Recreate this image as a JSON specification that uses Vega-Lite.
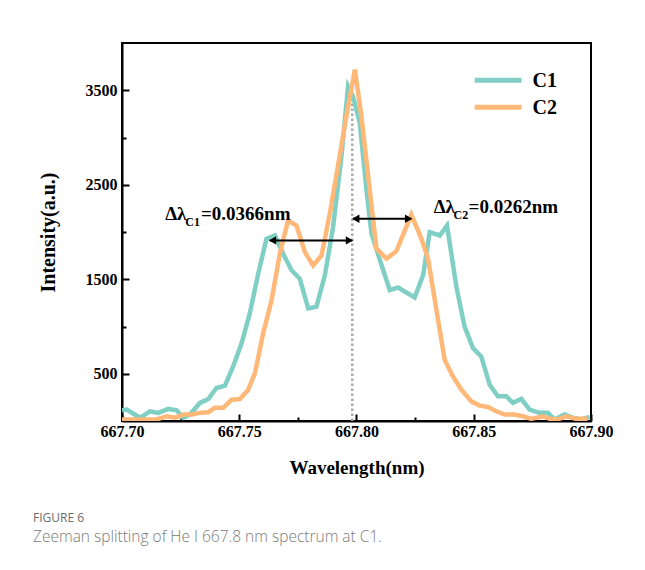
{
  "$schema": "https://vega.github.io/schema/vega-lite/v6.json",
  "width": 469,
  "height": 378,
  "padding": {"left": 33, "top": 43, "right": 5, "bottom": 5},
  "background": "white",
  "config": {
    "view": {"stroke": "black", "strokeWidth": 2},
    "font": "Liberation Serif"
  },
  "title": {
    "text": "FIGURE 6",
    "subtitle": "Zeeman splitting of He I 667.8 nm spectrum at C1.",
    "orient": "bottom",
    "anchor": "start",
    "frame": "bounds",
    "font": "Open Sans",
    "fontSize": 12,
    "fontWeight": "normal",
    "color": "#6b6b6b",
    "subtitleFont": "Open Sans",
    "subtitleFontSize": 15.5,
    "subtitleFontWeight": 300,
    "subtitleColor": "#7a7a7a",
    "subtitlePadding": 5,
    "offset": 36,
    "dx": -5
  },
  "datasets": {
    "spectra": [
      {"series": "C1", "wavelength": 667.7000, "intensity": 114},
      {"series": "C1", "wavelength": 667.7020, "intensity": 121},
      {"series": "C1", "wavelength": 667.7077, "intensity": 34},
      {"series": "C1", "wavelength": 667.7119, "intensity": 103},
      {"series": "C1", "wavelength": 667.7155, "intensity": 86},
      {"series": "C1", "wavelength": 667.7197, "intensity": 128},
      {"series": "C1", "wavelength": 667.7233, "intensity": 114},
      {"series": "C1", "wavelength": 667.7261, "intensity": 34},
      {"series": "C1", "wavelength": 667.7290, "intensity": 68},
      {"series": "C1", "wavelength": 667.7332, "intensity": 191},
      {"series": "C1", "wavelength": 667.7368, "intensity": 233},
      {"series": "C1", "wavelength": 667.7403, "intensity": 349},
      {"series": "C1", "wavelength": 667.7439, "intensity": 374},
      {"series": "C1", "wavelength": 667.7474, "intensity": 577},
      {"series": "C1", "wavelength": 667.7510, "intensity": 823},
      {"series": "C1", "wavelength": 667.7545, "intensity": 1139},
      {"series": "C1", "wavelength": 667.7581, "intensity": 1560},
      {"series": "C1", "wavelength": 667.7616, "intensity": 1928},
      {"series": "C1", "wavelength": 667.7652, "intensity": 1963},
      {"series": "C1", "wavelength": 667.7687, "intensity": 1770},
      {"series": "C1", "wavelength": 667.7723, "intensity": 1595},
      {"series": "C1", "wavelength": 667.7758, "intensity": 1507},
      {"series": "C1", "wavelength": 667.7794, "intensity": 1191},
      {"series": "C1", "wavelength": 667.7829, "intensity": 1209},
      {"series": "C1", "wavelength": 667.7865, "intensity": 1542},
      {"series": "C1", "wavelength": 667.7900, "intensity": 2050},
      {"series": "C1", "wavelength": 667.7936, "intensity": 2805},
      {"series": "C1", "wavelength": 667.7964, "intensity": 3542},
      {"series": "C1", "wavelength": 667.7985, "intensity": 3437},
      {"series": "C1", "wavelength": 667.8014, "intensity": 3153},
      {"series": "C1", "wavelength": 667.8042, "intensity": 2458},
      {"series": "C1", "wavelength": 667.8064, "intensity": 1984},
      {"series": "C1", "wavelength": 667.8103, "intensity": 1679},
      {"series": "C1", "wavelength": 667.8142, "intensity": 1384},
      {"series": "C1", "wavelength": 667.8177, "intensity": 1413},
      {"series": "C1", "wavelength": 667.8248, "intensity": 1307},
      {"series": "C1", "wavelength": 667.8284, "intensity": 1542},
      {"series": "C1", "wavelength": 667.8312, "intensity": 1998},
      {"series": "C1", "wavelength": 667.8355, "intensity": 1963},
      {"series": "C1", "wavelength": 667.8386, "intensity": 2068},
      {"series": "C1", "wavelength": 667.8426, "intensity": 1419},
      {"series": "C1", "wavelength": 667.8461, "intensity": 998},
      {"series": "C1", "wavelength": 667.8497, "intensity": 771},
      {"series": "C1", "wavelength": 667.8532, "intensity": 682},
      {"series": "C1", "wavelength": 667.8568, "intensity": 384},
      {"series": "C1", "wavelength": 667.8603, "intensity": 261},
      {"series": "C1", "wavelength": 667.8639, "intensity": 261},
      {"series": "C1", "wavelength": 667.8667, "intensity": 192},
      {"series": "C1", "wavelength": 667.8703, "intensity": 234},
      {"series": "C1", "wavelength": 667.8738, "intensity": 121},
      {"series": "C1", "wavelength": 667.8781, "intensity": 86},
      {"series": "C1", "wavelength": 667.8816, "intensity": 86},
      {"series": "C1", "wavelength": 667.8845, "intensity": 16},
      {"series": "C1", "wavelength": 667.8887, "intensity": 68},
      {"series": "C1", "wavelength": 667.8923, "intensity": 34},
      {"series": "C1", "wavelength": 667.8958, "intensity": 16},
      {"series": "C1", "wavelength": 667.8994, "intensity": 44},
      {"series": "C2", "wavelength": 667.7000, "intensity": 16},
      {"series": "C2", "wavelength": 667.7034, "intensity": 16},
      {"series": "C2", "wavelength": 667.7072, "intensity": 16},
      {"series": "C2", "wavelength": 667.7107, "intensity": 16},
      {"series": "C2", "wavelength": 667.7148, "intensity": 16},
      {"series": "C2", "wavelength": 667.7190, "intensity": 50},
      {"series": "C2", "wavelength": 667.7226, "intensity": 34},
      {"series": "C2", "wavelength": 667.7261, "intensity": 68},
      {"series": "C2", "wavelength": 667.7297, "intensity": 68},
      {"series": "C2", "wavelength": 667.7332, "intensity": 86},
      {"series": "C2", "wavelength": 667.7368, "intensity": 93},
      {"series": "C2", "wavelength": 667.7396, "intensity": 139},
      {"series": "C2", "wavelength": 667.7432, "intensity": 139},
      {"series": "C2", "wavelength": 667.7467, "intensity": 226},
      {"series": "C2", "wavelength": 667.7503, "intensity": 233},
      {"series": "C2", "wavelength": 667.7538, "intensity": 331},
      {"series": "C2", "wavelength": 667.7567, "intensity": 507},
      {"series": "C2", "wavelength": 667.7602, "intensity": 928},
      {"series": "C2", "wavelength": 667.7638, "intensity": 1279},
      {"series": "C2", "wavelength": 667.7673, "intensity": 1770},
      {"series": "C2", "wavelength": 667.7708, "intensity": 2121},
      {"series": "C2", "wavelength": 667.7744, "intensity": 2068},
      {"series": "C2", "wavelength": 667.7780, "intensity": 1787},
      {"series": "C2", "wavelength": 667.7815, "intensity": 1647},
      {"series": "C2", "wavelength": 667.7851, "intensity": 1752},
      {"series": "C2", "wavelength": 667.7886, "intensity": 2191},
      {"series": "C2", "wavelength": 667.7921, "intensity": 2700},
      {"series": "C2", "wavelength": 667.7957, "intensity": 3226},
      {"series": "C2", "wavelength": 667.7993, "intensity": 3718},
      {"series": "C2", "wavelength": 667.8021, "intensity": 3226},
      {"series": "C2", "wavelength": 667.8056, "intensity": 2455},
      {"series": "C2", "wavelength": 667.8085, "intensity": 1823},
      {"series": "C2", "wavelength": 667.8128, "intensity": 1718},
      {"series": "C2", "wavelength": 667.8170, "intensity": 1797},
      {"series": "C2", "wavelength": 667.8234, "intensity": 2184},
      {"series": "C2", "wavelength": 667.8277, "intensity": 1928},
      {"series": "C2", "wavelength": 667.8305, "intensity": 1718},
      {"series": "C2", "wavelength": 667.8341, "intensity": 1174},
      {"series": "C2", "wavelength": 667.8376, "intensity": 647},
      {"series": "C2", "wavelength": 667.8411, "intensity": 472},
      {"series": "C2", "wavelength": 667.8447, "intensity": 332},
      {"series": "C2", "wavelength": 667.8490, "intensity": 208},
      {"series": "C2", "wavelength": 667.8525, "intensity": 163},
      {"series": "C2", "wavelength": 667.8560, "intensity": 149},
      {"series": "C2", "wavelength": 667.8596, "intensity": 103},
      {"series": "C2", "wavelength": 667.8632, "intensity": 68},
      {"series": "C2", "wavelength": 667.8674, "intensity": 68},
      {"series": "C2", "wavelength": 667.8710, "intensity": 50},
      {"series": "C2", "wavelength": 667.8745, "intensity": 23},
      {"series": "C2", "wavelength": 667.8795, "intensity": 50},
      {"series": "C2", "wavelength": 667.8823, "intensity": 23},
      {"series": "C2", "wavelength": 667.8857, "intensity": 16},
      {"series": "C2", "wavelength": 667.8894, "intensity": 50},
      {"series": "C2", "wavelength": 667.8937, "intensity": 23},
      {"series": "C2", "wavelength": 667.8986, "intensity": 23}
    ],
    "legendItems": [
      {"series": "C1", "x1": 667.8504, "x2": 667.8704, "y": 3605, "lx": 667.8751, "ly": 3532},
      {"series": "C2", "x1": 667.8504, "x2": 667.8704, "y": 3321, "lx": 667.8751, "ly": 3247}
    ],
    "arrows": [
      {"name": "C1", "x1": 667.7630, "x2": 667.7982, "y": 1911},
      {"name": "C2", "x1": 667.7985, "x2": 667.8234, "y": 2140}
    ],
    "heads": [
      {"x": 667.7642, "y": 1911, "dir": "left"},
      {"x": 667.7970, "y": 1911, "dir": "right"},
      {"x": 667.7997, "y": 2140, "dir": "left"},
      {"x": 667.8222, "y": 2140, "dir": "right"}
    ],
    "marker": [
      {"x": 667.7982, "y": 0, "y2": 3437}
    ],
    "mainText": [
      {"text": "Δλ", "x": 667.7184, "y": 2131},
      {"text": "=0.0366nm", "x": 667.7337, "y": 2131},
      {"text": "Δλ", "x": 667.8329, "y": 2204},
      {"text": "=0.0262nm", "x": 667.8478, "y": 2204}
    ],
    "subText": [
      {"text": "C1", "x": 667.7270, "y": 2065},
      {"text": "C2", "x": 667.8414, "y": 2138}
    ]
  },
  "layer": [
    {
      "data": {"name": "marker"},
      "mark": {"type": "rule", "color": "#aaaaaa", "strokeWidth": 2.5, "strokeDash": [2.5, 2.5]},
      "encoding": {
        "x": {"field": "x", "type": "quantitative"},
        "y": {"field": "y", "type": "quantitative"},
        "y2": {"field": "y2"}
      }
    },
    {
      "data": {"name": "spectra"},
      "mark": {"type": "line", "strokeWidth": 4.5, "strokeJoin": "miter", "clip": true},
      "encoding": {
        "x": {
          "field": "wavelength",
          "type": "quantitative",
          "scale": {"domain": [667.7, 667.9], "nice": false, "zero": false},
          "axis": {
            "title": "Wavelength(nm)",
            "values": [667.7, 667.725, 667.75, 667.775, 667.8, 667.825, 667.85, 667.875, 667.9],
            "labelExpr": "abs(datum.value*20 - round(datum.value*20)) > 0.01 ? '' : format(datum.value, '.2f')",
            "labelFlush": false,
            "tickSize": {"condition": {"test": "abs(datum.value*20 - round(datum.value*20)) > 0.01", "value": -4}, "value": -7},
            "tickWidth": 2,
            "tickColor": "black",
            "domainColor": "black",
            "domainWidth": 2,
            "grid": false,
            "labelFont": "Liberation Serif",
            "labelFontWeight": "bold",
            "labelFontSize": 16,
            "labelColor": "black",
            "labelPadding": 9,
            "titleFont": "Liberation Serif",
            "titleFontWeight": "bold",
            "titleFontSize": 19,
            "titleColor": "black",
            "titlePadding": 19
          }
        },
        "y": {
          "field": "intensity",
          "type": "quantitative",
          "scale": {"domain": [0, 4000], "nice": false},
          "axis": {
            "title": "Intensity(a.u.)",
            "values": [500, 1000, 1500, 2000, 2500, 3000, 3500],
            "labelExpr": "datum.value % 1000 === 0 ? '' : datum.label",
            "labelFlush": false,
            "format": "d",
            "tickSize": {"condition": {"test": "datum.value % 1000 === 0", "value": -4}, "value": -7},
            "tickWidth": 2,
            "tickColor": "black",
            "domainColor": "black",
            "domainWidth": 2,
            "grid": false,
            "labelFont": "Liberation Serif",
            "labelFontWeight": "bold",
            "labelFontSize": 16,
            "labelColor": "black",
            "labelPadding": 12,
            "titleFont": "Liberation Serif",
            "titleFontWeight": "bold",
            "titleFontSize": 20,
            "titleColor": "black",
            "titlePadding": 27
          }
        },
        "color": {
          "field": "series",
          "type": "nominal",
          "scale": {"domain": ["C1", "C2"], "range": ["#7fcfc4", "#ffb878"]},
          "legend": null
        }
      }
    },
    {
      "data": {"name": "legendItems"},
      "mark": {"type": "rule", "strokeWidth": 5},
      "encoding": {
        "x": {"field": "x1", "type": "quantitative"},
        "x2": {"field": "x2"},
        "y": {"field": "y", "type": "quantitative"},
        "color": {"field": "series", "type": "nominal", "legend": null}
      }
    },
    {
      "data": {"name": "legendItems"},
      "mark": {"type": "text", "align": "left", "baseline": "alphabetic", "font": "Liberation Serif", "fontWeight": "bold", "fontSize": 20, "color": "black"},
      "encoding": {
        "x": {"field": "lx", "type": "quantitative"},
        "y": {"field": "ly", "type": "quantitative"},
        "text": {"field": "series"}
      }
    },
    {
      "data": {"name": "arrows"},
      "mark": {"type": "rule", "color": "black", "strokeWidth": 2},
      "encoding": {
        "x": {"field": "x1", "type": "quantitative"},
        "x2": {"field": "x2"},
        "y": {"field": "y", "type": "quantitative"}
      }
    },
    {
      "data": {"name": "heads"},
      "mark": {"type": "point", "filled": true, "color": "black", "size": 70, "opacity": 1},
      "encoding": {
        "x": {"field": "x", "type": "quantitative"},
        "y": {"field": "y", "type": "quantitative"},
        "shape": {
          "field": "dir",
          "type": "nominal",
          "scale": {"domain": ["left", "right"], "range": ["triangle-left", "triangle-right"]},
          "legend": null
        }
      }
    },
    {
      "data": {"name": "mainText"},
      "mark": {"type": "text", "align": "left", "baseline": "alphabetic", "font": "Liberation Serif", "fontWeight": "bold", "fontSize": 19, "color": "black"},
      "encoding": {
        "x": {"field": "x", "type": "quantitative"},
        "y": {"field": "y", "type": "quantitative"},
        "text": {"field": "text"}
      }
    },
    {
      "data": {"name": "subText"},
      "mark": {"type": "text", "align": "left", "baseline": "alphabetic", "font": "Liberation Serif", "fontWeight": "bold", "fontSize": 12, "color": "black"},
      "encoding": {
        "x": {"field": "x", "type": "quantitative"},
        "y": {"field": "y", "type": "quantitative"},
        "text": {"field": "text"}
      }
    }
  ]
}
